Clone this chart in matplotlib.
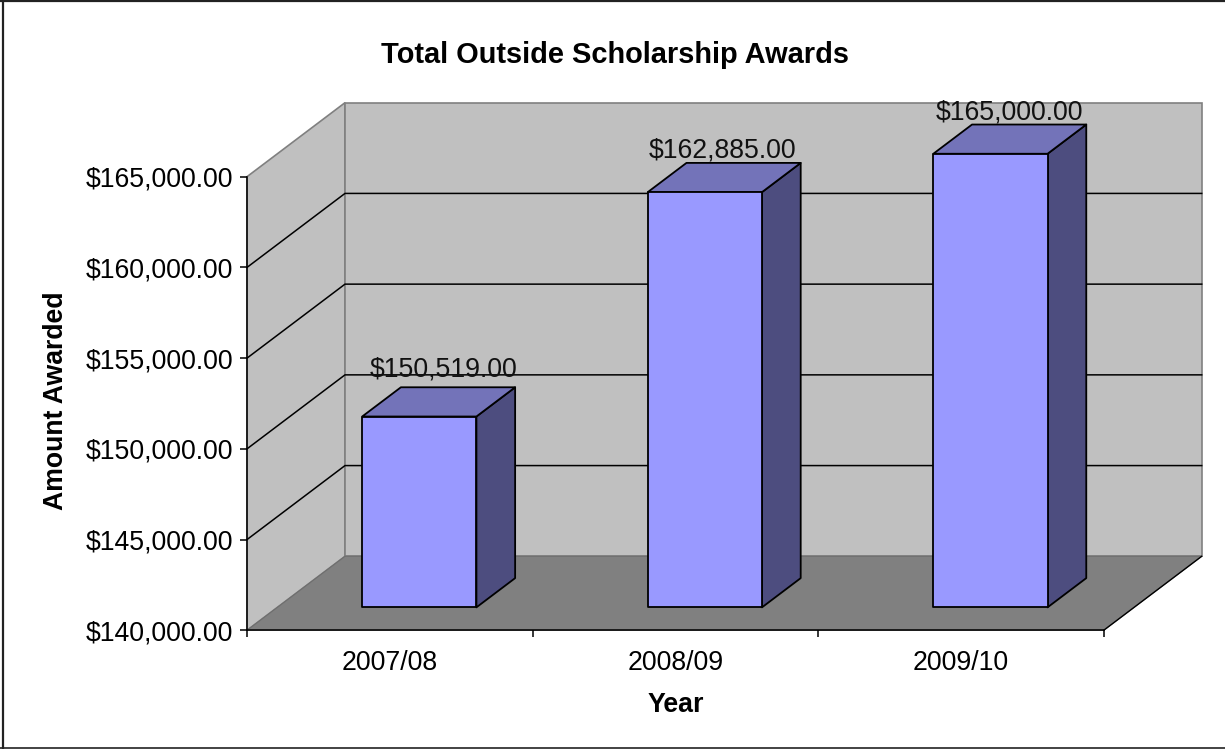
import matplotlib
matplotlib.use("Agg")
import matplotlib.pyplot as plt
from matplotlib.lines import Line2D
from matplotlib.patches import Polygon

plt.rcParams['font.family'] = ['Liberation Sans', 'DejaVu Sans']

# Data
years = ['2007/08', '2008/09', '2009/10']
awards = [150519, 162885, 165000]
award_labels = ['$150,519.00', '$162,885.00', '$165,000.00']
y_ticks = [140000, 145000, 150000, 155000, 160000, 165000]

W, H = 1225, 749
LEFT, RIGHT, BOTTOM, TOP = 247, 1103.7, 630.3, 176.7

# Fake 3D look: how far the back wall sits from the front plane
DEPTH_X = 98 / ((RIGHT - LEFT) / 3)
DEPTH_Y = 74 / ((BOTTOM - TOP) / 25000)
BAR_W = 0.4
BAR_START = 0.31
BAR_DEPTH = 0.395
BAR_SHIFT = -0.003

# label offsets in points, the labels do not sit evenly on the bars
label_nudge = [(-11.2, 3.6), (-15.6, -0.7), (-14.6, -0.7)]


def pt(x, y, d=0.0):
    # shift a front plane point d of the way to the back wall
    return (x + d * DEPTH_X, y + d * DEPTH_Y)


fig = plt.figure(figsize=(W / 100, H / 100), dpi=100, facecolor='white')
ax = fig.add_axes([LEFT / W, 1 - BOTTOM / H, (RIGHT - LEFT) / W, (BOTTOM - TOP) / H])
ax.set_xlim(0, 3)
ax.set_ylim(y_ticks[0], y_ticks[-1])
ax.patch.set_visible(False)

# Walls and floor
y0, y1 = y_ticks[0], y_ticks[-1]
ax.add_patch(Polygon([pt(0, y0), pt(0, y1), pt(0, y1, 1), pt(0, y0, 1)], closed=True,
                     fc='#c0c0c0', ec='#808080', lw=1.2, clip_on=False, zorder=1))
ax.add_patch(Polygon([pt(0, y0, 1), pt(0, y1, 1), pt(3, y1, 1), pt(3, y0, 1)], closed=True,
                     fc='#c0c0c0', ec='#808080', lw=1.2, clip_on=False, zorder=1))
ax.add_patch(Polygon([pt(0, y0), pt(3, y0), pt(3, y0, 1), pt(0, y0, 1)], closed=True,
                     fc='#808080', ec='#6e6e6e', lw=0.8, clip_on=False, zorder=1.5))
# black edge on the open side of the floor
xs, ys = zip(pt(3, y0), pt(3, y0, 1))
ax.plot(xs, ys, color='black', lw=1.0, clip_on=False, zorder=1.6)

# Gridlines on side wall and back wall
for tick in y_ticks[1:-1]:
    xs, ys = zip(pt(0, tick), pt(0, tick, 1), pt(3, tick, 1))
    ax.plot(xs, ys, color='black', lw=1.1, clip_on=False, zorder=2)

# Bars
for i, value in enumerate(awards):
    x0 = i + 0.5 - BAR_W / 2 + BAR_SHIFT
    x1 = i + 0.5 + BAR_W / 2 + BAR_SHIFT
    d0, d1 = BAR_START, BAR_START + BAR_DEPTH
    front = [pt(x0, y0, d0), pt(x1, y0, d0), pt(x1, value, d0), pt(x0, value, d0)]
    side = [pt(x1, y0, d0), pt(x1, y0, d1), pt(x1, value, d1), pt(x1, value, d0)]
    top = [pt(x0, value, d0), pt(x1, value, d0), pt(x1, value, d1), pt(x0, value, d1)]
    for verts, col in [(side, '#4d4d7f'), (top, '#7373b9'), (front, '#9999ff')]:
        ax.add_patch(Polygon(verts, closed=True, fc=col, ec='black', lw=1.3,
                             joinstyle='round', clip_on=False, zorder=3))
    ax.annotate(award_labels[i], xy=pt(i + 0.5, value, d1), xytext=label_nudge[i],
                textcoords='offset points', ha='center', va='bottom', fontsize=19.2,
                color='#111111', annotation_clip=False, zorder=4)

# Axes
for side_name in ['top', 'right']:
    ax.spines[side_name].set_visible(False)
for side_name in ['left', 'bottom']:
    ax.spines[side_name].set_linewidth(1.1)
    ax.spines[side_name].set_zorder(5)

ax.set_yticks(y_ticks)
ax.set_yticklabels(['${:,.2f}'.format(v) for v in y_ticks])
ax.set_xticks(range(4))
ax.set_xticklabels([])
ax.set_xticks([i + 0.5 for i in range(3)], minor=True)
ax.set_xticklabels(years, minor=True)
ax.tick_params(axis='both', which='major', length=5, width=1.1, labelsize=19.2, pad=5)
ax.tick_params(axis='x', which='minor', length=0, labelsize=19.2, pad=14)

ax.set_xlabel('Year', fontsize=19.3, fontweight='bold')
ax.xaxis.set_label_coords(0.5, (BOTTOM - 704.5) / (BOTTOM - TOP), transform=ax.transAxes)
ax.xaxis.label.set_va('center')
ax.set_ylabel('Amount Awarded', fontsize=19.2, fontweight='bold')
ax.yaxis.set_label_coords((56 - LEFT) / (RIGHT - LEFT), 0.507, transform=ax.transAxes)
ax.yaxis.label.set_va('center')

fig.text(615 / W, 1 - 55 / H, 'Total Outside Scholarship Awards', fontsize=20.9,
         fontweight='bold', ha='center', va='center')

# Chart area border (the picture shows no line on the right)
for xs, ys, lw in [([2.5, 2.5], [0, H], 1.6), ([0, W], [0.7, 0.7], 1.6), ([0, W], [748, 748], 1.2)]:
    fig.add_artist(Line2D([x / W for x in xs], [1 - y / H for y in ys], color='#222222',
                          lw=lw, transform=fig.transFigure))

fig.savefig('out.png', dpi=100)
